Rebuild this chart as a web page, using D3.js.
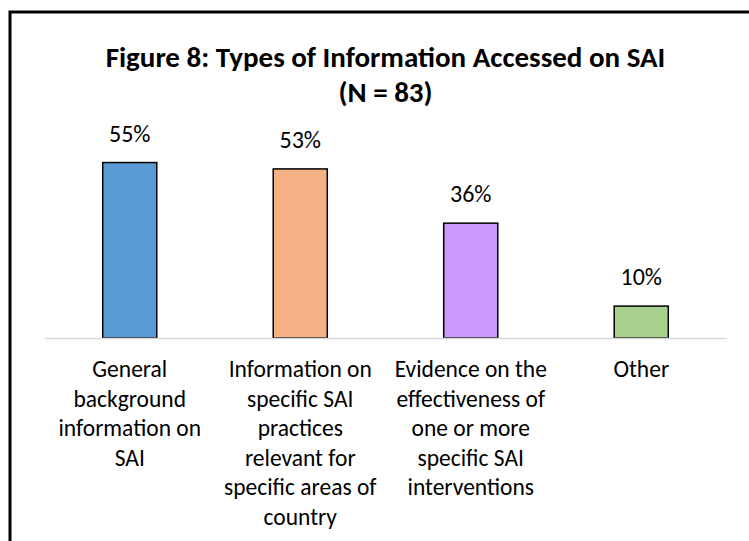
<!DOCTYPE html>
<html lang="en">

<head>
  <meta charset="utf-8">
  <title>Figure 8</title>
  <script src="https://d3js.org/d3.v7.min.js" charset="utf-8"></script>
  <style type="text/css">
    body {
      margin: 0;
      background: #fff;
    }

    text {
      font-family: Carlito, Lato, "Open Sans", sans-serif;
      fill: #000;
    }
  </style>
</head>

<body>

  <svg id="chart" class="chart"></svg>

  <script type="text/javascript">
    // data
    const categories = [
      "General background information on SAI",
      "Information on specific SAI practices relevant for specific areas of country",
      "Evidence on the effectiveness of one or more specific SAI interventions",
      "Other"
    ];
    const categoryLines = [
      ["General", "background", "information on", "SAI"],
      ["Information on", "specific SAI", "practices", "relevant for", "specific areas of", "country"],
      ["Evidence on the", "effectiveness of", "one or more", "specific SAI", "interventions"],
      ["Other"]
    ];
    const percents = [55, 53, 36, 10];
    const colors = ["#5b9bd5", "#f4b183", "#cc99ff", "#a9d18e"];
    const titleLines = ["Figure 8: Types of Information Accessed on SAI", "(N = 83)"];

    const maxWidth = 749;
    const maxHeight = 541;
    const left = 44.5;
    const right = 726.5;
    const baseY = 338;

    const data = categories.map((c, i) => ({
      name: c,
      lines: categoryLines[i],
      value: percents[i],
      color: colors[i]
    }));

    const svg = d3.select("#chart")
      .attr("width", maxWidth)
      .attr("height", maxHeight);

    // outer frame (runs off the right and bottom edges)
    svg.append("rect")
      .attr("x", 10)
      .attr("y", 12)
      .attr("width", 760)
      .attr("height", 560)
      .attr("fill", "none")
      .attr("stroke", "#000")
      .attr("stroke-width", 3);

    const xScale = d3.scaleBand()
      .range([left, right])
      .domain(data.map((d) => d.name))
      .paddingInner(0.683)
      .paddingOuter(0.3415);

    const yScale = d3.scaleLinear()
      .range([baseY, baseY - 60 * 3.19])
      .domain([0, 60]);

    const cx = (d) => xScale(d.name) + xScale.bandwidth() / 2;

    svg.selectAll()
      .data(data)
      .enter()
      .append("rect")
      .attr("x", (d) => xScale(d.name))
      .attr("y", (d) => yScale(d.value))
      .attr("width", xScale.bandwidth())
      .attr("height", (d) => baseY - yScale(d.value))
      .attr("fill", (d) => d.color)
      .attr("stroke", "#000")
      .attr("stroke-width", 1.5);

    // category axis
    const xAxis = svg.append("g")
      .attr("transform", `translate(0, ${baseY})`)
      .call(d3.axisBottom(xScale).tickSize(0).tickFormat(""));
    xAxis.select(".domain")
      .attr("stroke", "#d9d9d9")
      .attr("stroke-width", 1.5);

    const labels = svg.selectAll()
      .data(data)
      .enter()
      .append("text")
      .attr("text-anchor", "middle")
      .attr("font-size", 23.5)
      .attr("x", cx)
      .attr("y", 377);
    labels.selectAll("tspan")
      .data((d) => d.lines.map((l) => ({ l, x: cx(d) })))
      .enter()
      .append("tspan")
      .attr("x", (t) => t.x)
      .attr("dy", (t, i) => i === 0 ? 0 : 29.6)
      .text((t) => t.l);

    // value labels
    svg.selectAll()
      .data(data)
      .enter()
      .append("text")
      .attr("text-anchor", "middle")
      .attr("font-size", 24)
      .attr("x", cx)
      .attr("y", (d) => yScale(d.value) - 21)
      .text((d) => d.value + "%");

    // title
    const title = svg.append("text")
      .attr("text-anchor", "middle")
      .attr("font-size", 29)
      .attr("font-weight", "bold")
      .attr("x", (left + right) / 2)
      .attr("y", 67);
    title.selectAll("tspan")
      .data(titleLines)
      .enter()
      .append("tspan")
      .attr("x", (left + right) / 2)
      .attr("dy", (d, i) => i === 0 ? 0 : 35)
      .text((d) => d);
  </script>
</body>

</html>
